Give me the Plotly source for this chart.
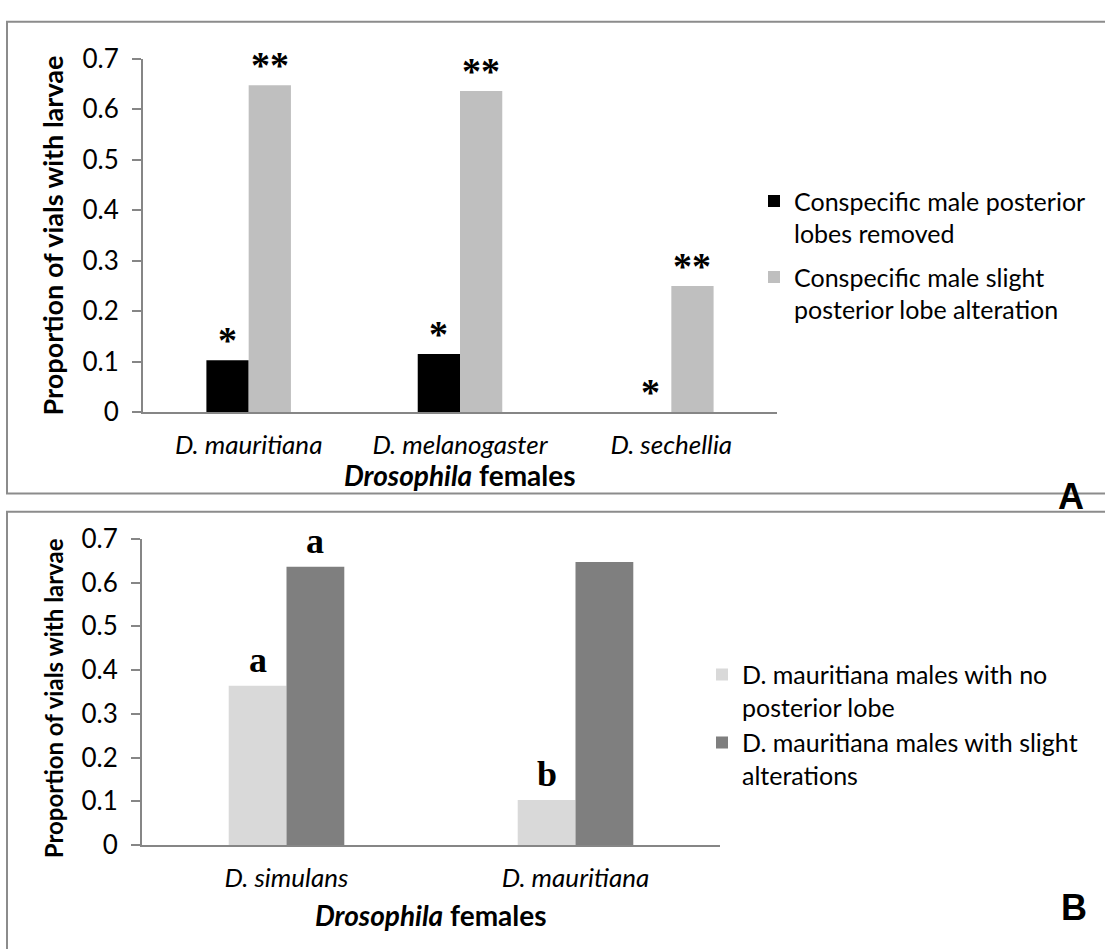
import plotly.graph_objects as go

# ---- data -------------------------------------------------------------
females_a = ["D. mauritiana", "D. melanogaster", "D. sechellia"]
lobes_removed = [0.103, 0.115, 0.0]
slight_alteration_a = [0.647, 0.636, 0.25]
sig_removed = ["*", "*", "*"]
sig_slight = ["**", "**", "**"]

females_b = ["D. simulans", "D. mauritiana"]
no_lobe = [0.364, 0.103]
slight_alteration_b = [0.636, 0.647]
letters_no_lobe = ["a", "b"]
letters_slight = ["a", ""]

y_ticks = [0, 0.1, 0.2, 0.3, 0.4, 0.5, 0.6, 0.7]

# ---- page geometry helpers (pixels -> paper fractions) ----------------
W, H = 1105, 949


def px(x):
    return x / W


def py(y):
    return 1 - y / H


SANS = "Lato"
SERIF = "Liberation Serif"
AXIS_GREY = "#868686"
BOX_GREY = "#8c8c8c"
TICK_FS = 26
LEGEND_FS = 25
XTITLE_FS = 28

fig = go.Figure()

# Panel A bars
fig.add_trace(go.Bar(
    x=females_a, y=lobes_removed, name="Conspecific male posterior<br>lobes removed",
    marker=dict(color="#000000", line=dict(width=0)), xaxis="x", yaxis="y",
    legend="legend", legendgroup="a1",
))
fig.add_trace(go.Bar(
    x=females_a, y=slight_alteration_a, name="Conspecific male slight<br>posterior lobe alteration",
    marker=dict(color="#bfbfbf", line=dict(width=0)), xaxis="x", yaxis="y",
    legend="legend", legendgroup="a2",
))

# Panel B bars
fig.add_trace(go.Bar(
    x=females_b, y=no_lobe, name="D. mauritiana males with no<br>posterior lobe",
    marker=dict(color="#d9d9d9", line=dict(width=0)), xaxis="x2", yaxis="y2",
    legend="legend2", legendgroup="b1",
))
fig.add_trace(go.Bar(
    x=females_b, y=slight_alteration_b, name="D. mauritiana males with slight<br>alterations",
    marker=dict(color="#7f7f7f", line=dict(width=0)), xaxis="x2", yaxis="y2",
    legend="legend2", legendgroup="b2",
))

annotations = []

# significance marks above panel A bars
star_font = dict(family=SERIF, size=38, color="black")
for i, (v, s) in enumerate(zip(lobes_removed, sig_removed)):
    annotations.append(dict(x=i - 0.1, y=v, xref="x", yref="y", text="<b>%s</b>" % s,
                            showarrow=False, yanchor="middle", yshift=20, font=star_font))
for i, (v, s) in enumerate(zip(slight_alteration_a, sig_slight)):
    annotations.append(dict(x=i + 0.1, y=v, xref="x", yref="y", text="<b>%s</b>" % s,
                            showarrow=False, yanchor="middle", yshift=20, font=star_font))

# group letters above panel B bars
letter_font = dict(family=SERIF, size=36, color="black")
for i, (v, s) in enumerate(zip(no_lobe, letters_no_lobe)):
    if s:
        annotations.append(dict(x=i - 0.1, y=v, xref="x2", yref="y2", text="<b>%s</b>" % s,
                                showarrow=False, yanchor="bottom", yshift=4, font=letter_font))
for i, (v, s) in enumerate(zip(slight_alteration_b, letters_slight)):
    if s:
        annotations.append(dict(x=i + 0.1, y=v, xref="x2", yref="y2", text="<b>%s</b>" % s,
                                showarrow=False, yanchor="bottom", yshift=4, font=letter_font))

# axis titles and panel letters
ytitle = "<b>Proportion of vials with larvae</b>"
xtitle = "<b><i>Drosophila</i> females</b>"
annotations += [
    dict(x=px(52), y=py(226), xref="paper", yref="paper", text=ytitle, textangle=-90,
         showarrow=False, xanchor="center", yanchor="middle",
         font=dict(family=SANS, size=27, color="black")),
    dict(x=px(53), y=py(705), xref="paper", yref="paper", text=ytitle, textangle=-90,
         showarrow=False, xanchor="center", yanchor="middle",
         font=dict(family=SANS, size=24, color="black")),
    dict(x=px(460), y=py(474), xref="paper", yref="paper", text=xtitle,
         showarrow=False, xanchor="center", yanchor="middle",
         font=dict(family=SANS, size=XTITLE_FS, color="black")),
    dict(x=px(431), y=py(929), xref="paper", yref="paper", text=xtitle,
         showarrow=False, xanchor="center", yanchor="middle",
         font=dict(family=SANS, size=XTITLE_FS, color="black")),
    dict(x=px(1071), y=py(496), xref="paper", yref="paper", text="<b>A</b>",
         showarrow=False, xanchor="center", yanchor="middle",
         font=dict(family="Liberation Sans", size=36, color="black")),
    dict(x=px(1074), y=py(922), xref="paper", yref="paper", text="<b>B</b>",
         showarrow=False, xanchor="center", yanchor="middle",
         font=dict(family="Liberation Sans", size=36, color="black")),
]

# panel frames
shapes = [
    dict(type="rect", xref="paper", yref="paper", x0=px(7), x1=px(1120), y0=py(493), y1=py(5),
         line=dict(color=BOX_GREY, width=2), fillcolor="rgba(0,0,0,0)", layer="below"),
    dict(type="rect", xref="paper", yref="paper", x0=px(7), x1=px(1120), y0=py(970), y1=py(512),
         line=dict(color=BOX_GREY, width=2), fillcolor="rgba(0,0,0,0)", layer="below"),
]

xaxis_common = dict(
    type="category", showline=True, linecolor=AXIS_GREY, linewidth=2, ticks="",
    showgrid=False, zeroline=False, ticklabelstandoff=9,
    tickfont=dict(family=SANS, size=TICK_FS, color="black", style="italic"),
)
yaxis_common = dict(
    range=[0, 0.7], tickvals=y_ticks, ticktext=[f"{t:g}" for t in y_ticks],
    showline=True, linecolor=AXIS_GREY, linewidth=2, ticks="outside", ticklen=9,
    tickcolor=AXIS_GREY, tickwidth=2, showgrid=False, zeroline=False, ticklabelstandoff=8,
    tickfont=dict(family=SANS, size=TICK_FS, color="black"),
)

legend_common = dict(
    xanchor="left", yanchor="top", valign="top", bgcolor="rgba(0,0,0,0)",
    borderwidth=0, font=dict(family=SANS, size=LEGEND_FS, color="black"),
    itemclick=False, traceorder="grouped",
)

fig.update_layout(
    width=W, height=H, margin=dict(l=0, r=0, t=0, b=0),
    paper_bgcolor="white", plot_bgcolor="white",
    barmode="group", bargap=0.6, bargroupgap=0,
    xaxis=dict(domain=[px(143), px(777)], anchor="y", **xaxis_common),
    yaxis=dict(domain=[py(409), py(43)], anchor="x", **yaxis_common),
    xaxis2=dict(domain=[px(142), px(720)], anchor="y2", **xaxis_common),
    yaxis2=dict(domain=[py(857), py(540)], anchor="x2", **yaxis_common),
    legend=dict(x=px(754), y=py(167), tracegroupgap=8, **legend_common),
    legend2=dict(x=px(702), y=py(657), tracegroupgap=0, **legend_common),
    annotations=annotations, shapes=shapes, showlegend=True,
)

fig.write_html("out.html")
